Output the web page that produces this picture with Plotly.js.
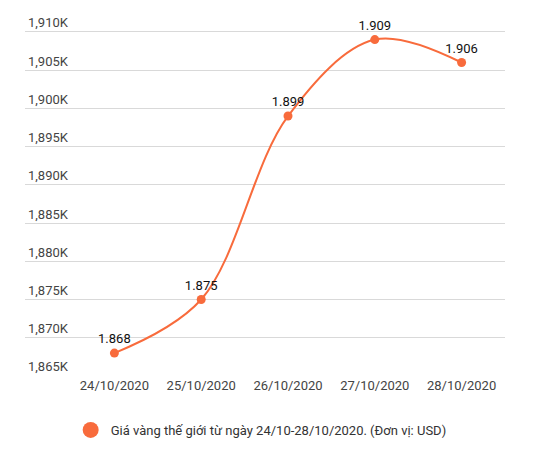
<!DOCTYPE html>
<html>
<head>
<meta charset="utf-8">
<script src="https://cdn.plot.ly/plotly-3.0.1.min.js"></script>
<style>
  html, body { margin: 0; padding: 0; background: #fff; }
  #chart { width: 539px; height: 449px; }
</style>
</head>
<body>
<div id="chart"></div>
<script>
var dates = ["24/10/2020", "25/10/2020", "26/10/2020", "27/10/2020", "28/10/2020"];
var prices = [1868, 1875, 1899, 1909, 1906];
var yTicks = [1865, 1870, 1875, 1880, 1885, 1890, 1895, 1900, 1905, 1910];
var yTickText = ["1,865K", "1,870K", "1,875K", "1,880K", "1,885K", "1,890K", "1,895K", "1,900K", "1,905K", "1,910K"];
var seriesName = "Giá vàng thế giới từ ngày 24/10-28/10/2020. (Đơn vị: USD)";

var orange = "#f86b3c";

// labels in the picture use "." as thousands separator
var labels = prices.map(function (v) {
    return v.toLocaleString("de-DE");
});

var lineTrace = {
    x: dates,
    y: prices,
    mode: "lines",
    type: "scatter",
    line: { color: orange, width: 2, shape: "spline", smoothing: 1 },
    showlegend: false,
    hoverinfo: "skip",
    cliponaxis: false,
};

var pointsTrace = {
    x: dates,
    y: prices,
    mode: "markers+text",
    type: "scatter",
    text: labels,
    textposition: "top center",
    textfont: { family: "Roboto, sans-serif", size: 13, color: "#111" },
    marker: { color: orange, size: 9 },
    showlegend: false,
    cliponaxis: false,
};

// legend entry only
var legendTrace = {
    x: [null],
    y: [null],
    mode: "markers",
    type: "scatter",
    name: seriesName,
    marker: { color: orange, size: 16 },
};

var layout = {
    width: 539,
    height: 449,
    font: { family: "Roboto, sans-serif", size: 13, color: "#444" },
    paper_bgcolor: "#fff",
    plot_bgcolor: "#fff",
    margin: { l: 25, r: 34, t: 9, b: 73, pad: 0, autoexpand: false },
    xaxis: {
        type: "category",
        range: [-1.03, 4.5],
        showgrid: false,
        zeroline: false,
        showline: false,
        ticks: "",
        tickfont: { size: 13, color: "#444" },
        fixedrange: true,
    },
    yaxis: {
        range: [1865, 1913],
        tickmode: "array",
        tickvals: yTicks,
        ticktext: yTickText,
        ticklabelposition: "inside top",
        gridcolor: "#d9d9d9",
        gridwidth: 1,
        zeroline: false,
        showline: false,
        ticks: "",
        tickfont: { size: 13, color: "#444" },
        fixedrange: true,
    },
    showlegend: true,
    legend: {
        orientation: "h",
        x: 0.492,
        xanchor: "center",
        y: -0.147,
        yanchor: "middle",
        itemwidth: 30,
        font: { size: 13, color: "#333" },
    },
};

Plotly.newPlot("chart", [lineTrace, pointsTrace, legendTrace], layout, { staticPlot: true });
</script>
</body>
</html>
